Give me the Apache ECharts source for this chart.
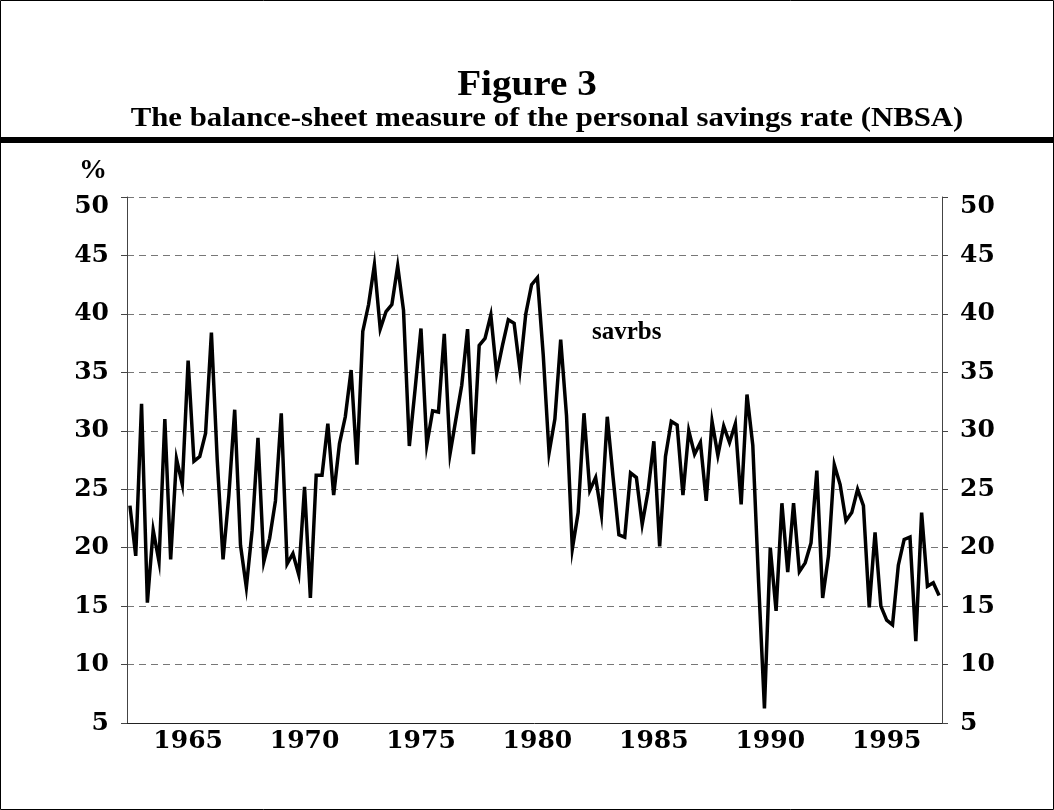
<!DOCTYPE html>
<html>
<head>
<meta charset="utf-8">
<title>Figure 3</title>
<script src="https://cdn.jsdelivr.net/npm/echarts@6/dist/echarts.min.js"></script>
<style>
  html, body { margin: 0; padding: 0; background: #fff; }
  #chart { width: 1054px; height: 810px; }
</style>
</head>
<body>
<div id="chart"></div>
<script>
// quarterly observations, 1962Q3 - 1997Q2
const startYear = 1962
const startQuarter = 3
const savrbs = [
  23.6, 19.3, 32.3, 15.3, 21.5, 18.8, 31.0, 19.0, 27.6, 25.4,
  36.0, 27.4, 27.8, 29.8, 38.4, 27.5, 19.0, 24.5, 31.8, 20.2,
  16.6, 21.5, 29.4, 18.8, 20.8, 24.0, 31.5, 18.6, 19.5, 17.7,
  25.2, 15.7, 26.2, 26.2, 30.6, 24.5, 28.9, 31.2, 35.2, 27.1,
  38.5, 40.8, 44.2, 38.7, 40.2, 40.8, 44.1, 40.3, 28.7, 33.6,
  38.75, 28.8, 31.7, 31.6, 38.3, 28.05, 31.0, 33.9, 38.7, 28.0,
  37.3, 37.9, 39.9, 34.9, 37.3, 39.5, 39.2, 35.2, 40.0, 42.5,
  43.1, 36.5, 28.1, 31.0, 37.8, 31.3, 19.9, 23.0, 31.5, 24.9,
  26.0, 22.8, 31.2, 26.0, 21.1, 20.9, 26.4, 26.0, 22.0, 24.8,
  29.1, 20.1, 27.8, 30.8, 30.5, 24.5, 30.0, 28.0, 29.0, 24.0,
  30.8, 27.9, 30.4, 29.0, 30.6, 23.7, 33.1, 28.75, 17.0, 6.25,
  20.0, 14.6, 23.8, 17.9, 23.8, 17.95, 18.7, 20.4, 26.6, 15.7,
  19.3, 27.1, 25.4, 22.3, 23.0, 25.0, 23.6, 14.9, 21.3, 15.0,
  13.8, 13.4, 18.5, 20.7, 20.9, 12.0, 23.0, 16.7, 17.0, 15.9
]
const yearLabels = ['1965', '1970', '1975', '1980', '1985', '1990', '1995']
const yTicks = [5, 10, 15, 20, 25, 30, 35, 40, 45, 50]

// category names like 1962Q3
const categories = []
let yr = startYear
let q = startQuarter
while (categories.length < savrbs.length) {
  categories.push(yr + 'Q' + q)
  q++
  if (q > 4) { q = 1; yr++ }
}

const serif = '"Liberation Serif", "Times New Roman", serif'
const tickFont = '"DejaVu Serif", serif'
const tickText = { color: '#000', fontFamily: tickFont, fontWeight: 'bold', fontSize: 25 }

const chart = echarts.init(document.getElementById('chart'))

const yMax = yTicks[yTicks.length - 1]
const yAxisBase = {
  type: 'value',
  min: yTicks[0],
  max: yMax,
  interval: 5,
  axisLine: { show: true, lineStyle: { color: '#444', width: 1 } },
  axisTick: { show: true, length: 6, lineStyle: { color: '#444' } },
  axisLabel: Object.assign({
    margin: 18,
    // top label sits a bit lower, like the original
    formatter: (v) => v === yMax ? '{top|' + v + '}' : String(v),
    rich: { top: Object.assign({ padding: [18, 0, 0, 0] }, tickText) }
  }, tickText)
}

chart.setOption({
  animation: false,
  backgroundColor: '#fff',
  grid: { left: 127, right: 112, top: 197, bottom: 87 },
  xAxis: {
    type: 'category',
    data: categories,
    boundaryGap: true,
    axisLine: { lineStyle: { color: '#222', width: 1 } },
    axisTick: {
      length: 7,
      interval: (i) => i % 8 === 0,
      lineStyle: { color: '#222' }
    },
    axisLabel: Object.assign({
      margin: 6,
      interval: (i, v) => v.endsWith('Q1') && yearLabels.includes(v.slice(0, 4)),
      formatter: (v) => v.slice(0, 4)
    }, tickText),
    splitLine: { show: false }
  },
  yAxis: [
    Object.assign({}, yAxisBase, {
      position: 'left',
      splitLine: { show: true, lineStyle: { color: '#777', type: [7, 5], width: 1 } }
    }),
    Object.assign({}, yAxisBase, {
      position: 'right',
      splitLine: { show: false }
    })
  ],
  series: [{
    name: 'savrbs',
    type: 'line',
    data: savrbs,
    showSymbol: false,
    symbol: 'none',
    lineStyle: { color: '#000', width: 3.5, join: 'miter' }
  }],
  graphic: [
    // outer frame
    { type: 'rect', shape: { x: 0.5, y: 0.5, width: 1053, height: 809 }, style: { fill: null, stroke: '#000', lineWidth: 1 }, silent: true },
    // heavy rule under the heading
    { type: 'rect', shape: { x: 0, y: 137, width: 1054, height: 6 }, style: { fill: '#000' }, silent: true },
    {
      type: 'text', x: 527, y: 86, scaleX: 1.12,
      style: { text: 'Figure 3', font: 'bold 35px ' + serif, fill: '#000', textAlign: 'center', textVerticalAlign: 'middle' }
    },
    {
      type: 'text', x: 547, y: 119, scaleX: 1.1,
      style: { text: 'The balance-sheet measure of the personal savings rate (NBSA)', font: 'bold 28px ' + serif, fill: '#000', textAlign: 'center', textVerticalAlign: 'middle' }
    },
    {
      type: 'text', left: 79, top: 157,
      style: { text: '%', font: 'bold 28px ' + serif, fill: '#000' }
    },
    {
      type: 'text', left: 592, top: 320,
      style: { text: 'savrbs', font: 'bold 25px ' + serif, fill: '#000' }
    }
  ]
})
</script>
</body>
</html>
